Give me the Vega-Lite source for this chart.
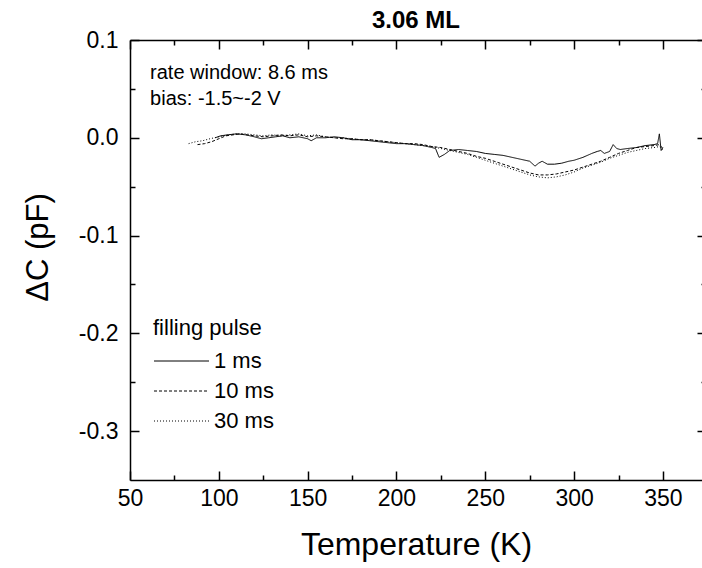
{
  "$schema": "https://vega.github.io/schema/vega-lite/v6.json",
  "width": 572,
  "height": 440,
  "autosize": {"type": "none"},
  "padding": {"left": 130, "top": 40, "right": 0, "bottom": 88},
  "background": "white",
  "config": {
    "view": {"stroke": null},
    "font": "Liberation Sans",
    "title": {"fontSize": 24, "fontWeight": "bold", "font": "Liberation Sans", "color": "black", "anchor": "middle", "baseline": "bottom", "offset": -28},
    "axis": {
      "domainColor": "black",
      "domainWidth": 1.5,
      "tickColor": "black",
      "tickWidth": 1.5,
      "labelColor": "black",
      "titleColor": "black",
      "labelFont": "Liberation Sans",
      "titleFont": "Liberation Sans",
      "titleFontWeight": "normal",
      "grid": false
    }
  },
  "title": {
    "text": "3.06 ML",
    "fontSize": 24,
    "fontWeight": "bold",
    "font": "Liberation Sans",
    "color": "black",
    "anchor": "middle",
    "baseline": "bottom",
    "offset": -28
  },
  "datasets": {
    "curves": [
      {"T": 98, "C": 0.000, "pulse": "1 ms"},
      {"T": 101, "C": 0.002, "pulse": "1 ms"},
      {"T": 105, "C": 0.003, "pulse": "1 ms"},
      {"T": 110, "C": 0.004, "pulse": "1 ms"},
      {"T": 115, "C": 0.003, "pulse": "1 ms"},
      {"T": 120, "C": 0.001, "pulse": "1 ms"},
      {"T": 124, "C": -0.001, "pulse": "1 ms"},
      {"T": 128, "C": 0.000, "pulse": "1 ms"},
      {"T": 132, "C": 0.001, "pulse": "1 ms"},
      {"T": 136, "C": 0.002, "pulse": "1 ms"},
      {"T": 140, "C": 0.000, "pulse": "1 ms"},
      {"T": 145, "C": 0.001, "pulse": "1 ms"},
      {"T": 150, "C": -0.001, "pulse": "1 ms"},
      {"T": 152, "C": -0.003, "pulse": "1 ms"},
      {"T": 155, "C": 0.000, "pulse": "1 ms"},
      {"T": 160, "C": 0.000, "pulse": "1 ms"},
      {"T": 165, "C": 0.001, "pulse": "1 ms"},
      {"T": 170, "C": 0.000, "pulse": "1 ms"},
      {"T": 175, "C": -0.002, "pulse": "1 ms"},
      {"T": 180, "C": -0.002, "pulse": "1 ms"},
      {"T": 185, "C": -0.003, "pulse": "1 ms"},
      {"T": 190, "C": -0.004, "pulse": "1 ms"},
      {"T": 195, "C": -0.005, "pulse": "1 ms"},
      {"T": 200, "C": -0.006, "pulse": "1 ms"},
      {"T": 205, "C": -0.006, "pulse": "1 ms"},
      {"T": 210, "C": -0.007, "pulse": "1 ms"},
      {"T": 215, "C": -0.008, "pulse": "1 ms"},
      {"T": 220, "C": -0.010, "pulse": "1 ms"},
      {"T": 222, "C": -0.011, "pulse": "1 ms"},
      {"T": 224, "C": -0.020, "pulse": "1 ms"},
      {"T": 227, "C": -0.017, "pulse": "1 ms"},
      {"T": 230, "C": -0.013, "pulse": "1 ms"},
      {"T": 235, "C": -0.012, "pulse": "1 ms"},
      {"T": 240, "C": -0.013, "pulse": "1 ms"},
      {"T": 245, "C": -0.014, "pulse": "1 ms"},
      {"T": 250, "C": -0.016, "pulse": "1 ms"},
      {"T": 255, "C": -0.017, "pulse": "1 ms"},
      {"T": 260, "C": -0.018, "pulse": "1 ms"},
      {"T": 265, "C": -0.020, "pulse": "1 ms"},
      {"T": 270, "C": -0.022, "pulse": "1 ms"},
      {"T": 275, "C": -0.024, "pulse": "1 ms"},
      {"T": 278, "C": -0.029, "pulse": "1 ms"},
      {"T": 280, "C": -0.026, "pulse": "1 ms"},
      {"T": 282, "C": -0.024, "pulse": "1 ms"},
      {"T": 285, "C": -0.027, "pulse": "1 ms"},
      {"T": 289, "C": -0.027, "pulse": "1 ms"},
      {"T": 293, "C": -0.026, "pulse": "1 ms"},
      {"T": 297, "C": -0.024, "pulse": "1 ms"},
      {"T": 300, "C": -0.023, "pulse": "1 ms"},
      {"T": 305, "C": -0.020, "pulse": "1 ms"},
      {"T": 310, "C": -0.016, "pulse": "1 ms"},
      {"T": 313, "C": -0.014, "pulse": "1 ms"},
      {"T": 315, "C": -0.013, "pulse": "1 ms"},
      {"T": 317, "C": -0.016, "pulse": "1 ms"},
      {"T": 320, "C": -0.014, "pulse": "1 ms"},
      {"T": 322, "C": -0.007, "pulse": "1 ms"},
      {"T": 324, "C": -0.011, "pulse": "1 ms"},
      {"T": 326, "C": -0.012, "pulse": "1 ms"},
      {"T": 330, "C": -0.011, "pulse": "1 ms"},
      {"T": 335, "C": -0.010, "pulse": "1 ms"},
      {"T": 340, "C": -0.008, "pulse": "1 ms"},
      {"T": 345, "C": -0.007, "pulse": "1 ms"},
      {"T": 347, "C": -0.006, "pulse": "1 ms"},
      {"T": 348, "C": 0.004, "pulse": "1 ms"},
      {"T": 349, "C": -0.013, "pulse": "1 ms"},
      {"T": 350, "C": -0.010, "pulse": "1 ms"},

      {"T": 88, "C": -0.007, "pulse": "10 ms"},
      {"T": 92, "C": -0.006, "pulse": "10 ms"},
      {"T": 96, "C": -0.004, "pulse": "10 ms"},
      {"T": 100, "C": -0.001, "pulse": "10 ms"},
      {"T": 104, "C": 0.002, "pulse": "10 ms"},
      {"T": 108, "C": 0.003, "pulse": "10 ms"},
      {"T": 112, "C": 0.004, "pulse": "10 ms"},
      {"T": 116, "C": 0.003, "pulse": "10 ms"},
      {"T": 120, "C": 0.002, "pulse": "10 ms"},
      {"T": 125, "C": 0.001, "pulse": "10 ms"},
      {"T": 130, "C": 0.002, "pulse": "10 ms"},
      {"T": 135, "C": 0.003, "pulse": "10 ms"},
      {"T": 140, "C": 0.002, "pulse": "10 ms"},
      {"T": 145, "C": 0.003, "pulse": "10 ms"},
      {"T": 150, "C": 0.001, "pulse": "10 ms"},
      {"T": 155, "C": 0.002, "pulse": "10 ms"},
      {"T": 160, "C": 0.001, "pulse": "10 ms"},
      {"T": 165, "C": 0.000, "pulse": "10 ms"},
      {"T": 170, "C": -0.001, "pulse": "10 ms"},
      {"T": 175, "C": -0.001, "pulse": "10 ms"},
      {"T": 180, "C": -0.002, "pulse": "10 ms"},
      {"T": 185, "C": -0.002, "pulse": "10 ms"},
      {"T": 190, "C": -0.003, "pulse": "10 ms"},
      {"T": 195, "C": -0.004, "pulse": "10 ms"},
      {"T": 200, "C": -0.005, "pulse": "10 ms"},
      {"T": 205, "C": -0.006, "pulse": "10 ms"},
      {"T": 210, "C": -0.006, "pulse": "10 ms"},
      {"T": 215, "C": -0.007, "pulse": "10 ms"},
      {"T": 220, "C": -0.009, "pulse": "10 ms"},
      {"T": 225, "C": -0.010, "pulse": "10 ms"},
      {"T": 230, "C": -0.012, "pulse": "10 ms"},
      {"T": 235, "C": -0.014, "pulse": "10 ms"},
      {"T": 240, "C": -0.016, "pulse": "10 ms"},
      {"T": 245, "C": -0.019, "pulse": "10 ms"},
      {"T": 250, "C": -0.021, "pulse": "10 ms"},
      {"T": 255, "C": -0.024, "pulse": "10 ms"},
      {"T": 260, "C": -0.027, "pulse": "10 ms"},
      {"T": 265, "C": -0.030, "pulse": "10 ms"},
      {"T": 270, "C": -0.033, "pulse": "10 ms"},
      {"T": 275, "C": -0.036, "pulse": "10 ms"},
      {"T": 280, "C": -0.038, "pulse": "10 ms"},
      {"T": 285, "C": -0.038, "pulse": "10 ms"},
      {"T": 290, "C": -0.037, "pulse": "10 ms"},
      {"T": 295, "C": -0.035, "pulse": "10 ms"},
      {"T": 300, "C": -0.033, "pulse": "10 ms"},
      {"T": 305, "C": -0.030, "pulse": "10 ms"},
      {"T": 310, "C": -0.027, "pulse": "10 ms"},
      {"T": 315, "C": -0.024, "pulse": "10 ms"},
      {"T": 320, "C": -0.020, "pulse": "10 ms"},
      {"T": 325, "C": -0.016, "pulse": "10 ms"},
      {"T": 330, "C": -0.013, "pulse": "10 ms"},
      {"T": 335, "C": -0.010, "pulse": "10 ms"},
      {"T": 340, "C": -0.009, "pulse": "10 ms"},
      {"T": 345, "C": -0.008, "pulse": "10 ms"},
      {"T": 348, "C": -0.007, "pulse": "10 ms"},
      {"T": 350, "C": -0.011, "pulse": "10 ms"},

      {"T": 83, "C": -0.006, "pulse": "30 ms"},
      {"T": 87, "C": -0.004, "pulse": "30 ms"},
      {"T": 91, "C": -0.003, "pulse": "30 ms"},
      {"T": 95, "C": -0.001, "pulse": "30 ms"},
      {"T": 100, "C": 0.001, "pulse": "30 ms"},
      {"T": 105, "C": 0.003, "pulse": "30 ms"},
      {"T": 110, "C": 0.004, "pulse": "30 ms"},
      {"T": 115, "C": 0.004, "pulse": "30 ms"},
      {"T": 120, "C": 0.003, "pulse": "30 ms"},
      {"T": 125, "C": 0.002, "pulse": "30 ms"},
      {"T": 130, "C": 0.003, "pulse": "30 ms"},
      {"T": 135, "C": 0.002, "pulse": "30 ms"},
      {"T": 140, "C": 0.003, "pulse": "30 ms"},
      {"T": 145, "C": 0.004, "pulse": "30 ms"},
      {"T": 150, "C": 0.002, "pulse": "30 ms"},
      {"T": 155, "C": 0.003, "pulse": "30 ms"},
      {"T": 160, "C": 0.001, "pulse": "30 ms"},
      {"T": 165, "C": 0.000, "pulse": "30 ms"},
      {"T": 170, "C": 0.000, "pulse": "30 ms"},
      {"T": 175, "C": -0.001, "pulse": "30 ms"},
      {"T": 180, "C": -0.002, "pulse": "30 ms"},
      {"T": 185, "C": -0.002, "pulse": "30 ms"},
      {"T": 190, "C": -0.003, "pulse": "30 ms"},
      {"T": 195, "C": -0.004, "pulse": "30 ms"},
      {"T": 200, "C": -0.005, "pulse": "30 ms"},
      {"T": 205, "C": -0.006, "pulse": "30 ms"},
      {"T": 210, "C": -0.007, "pulse": "30 ms"},
      {"T": 215, "C": -0.008, "pulse": "30 ms"},
      {"T": 220, "C": -0.009, "pulse": "30 ms"},
      {"T": 225, "C": -0.011, "pulse": "30 ms"},
      {"T": 230, "C": -0.013, "pulse": "30 ms"},
      {"T": 235, "C": -0.015, "pulse": "30 ms"},
      {"T": 240, "C": -0.017, "pulse": "30 ms"},
      {"T": 245, "C": -0.020, "pulse": "30 ms"},
      {"T": 250, "C": -0.023, "pulse": "30 ms"},
      {"T": 255, "C": -0.026, "pulse": "30 ms"},
      {"T": 260, "C": -0.029, "pulse": "30 ms"},
      {"T": 265, "C": -0.032, "pulse": "30 ms"},
      {"T": 270, "C": -0.035, "pulse": "30 ms"},
      {"T": 275, "C": -0.038, "pulse": "30 ms"},
      {"T": 280, "C": -0.040, "pulse": "30 ms"},
      {"T": 285, "C": -0.041, "pulse": "30 ms"},
      {"T": 290, "C": -0.040, "pulse": "30 ms"},
      {"T": 295, "C": -0.038, "pulse": "30 ms"},
      {"T": 300, "C": -0.035, "pulse": "30 ms"},
      {"T": 305, "C": -0.031, "pulse": "30 ms"},
      {"T": 310, "C": -0.028, "pulse": "30 ms"},
      {"T": 315, "C": -0.025, "pulse": "30 ms"},
      {"T": 320, "C": -0.021, "pulse": "30 ms"},
      {"T": 325, "C": -0.018, "pulse": "30 ms"},
      {"T": 330, "C": -0.015, "pulse": "30 ms"},
      {"T": 335, "C": -0.013, "pulse": "30 ms"},
      {"T": 340, "C": -0.011, "pulse": "30 ms"},
      {"T": 345, "C": -0.010, "pulse": "30 ms"},
      {"T": 348, "C": -0.009, "pulse": "30 ms"},
      {"T": 350, "C": -0.012, "pulse": "30 ms"}
    ],
    "notes": [
      {"label": "rate window: 8.6 ms", "T": 61.3, "C": 0.0665},
      {"label": "bias: -1.5~-2 V", "T": 61.3, "C": 0.040}
    ]
  },
  "resolve": {"axis": {"x": "independent", "y": "independent"}},
  "layer": [
    {
      "data": {"name": "curves"},
      "mark": {"type": "line", "color": "black", "strokeWidth": 1, "clip": true},
      "encoding": {
        "x": {
          "field": "T", "type": "quantitative",
          "scale": {"domain": [50, 372], "nice": false, "zero": false},
          "axis": {
            "orient": "bottom",
            "values": [50, 100, 150, 200, 250, 300, 350],
            "labelFlush": false,
            "labelFontSize": 23,
            "labelPadding": 7,
            "tickSize": 0,
            "ticks": false,
            "title": "Temperature (K)",
            "titleFontSize": 32,
            "titlePadding": 19
          }
        },
        "y": {
          "field": "C", "type": "quantitative",
          "scale": {"domain": [-0.35, 0.1], "nice": false, "zero": false},
          "axis": {
            "orient": "left",
            "values": [-0.3, -0.2, -0.1, 0, 0.1],
            "labelExpr": "datum.value < -0.0001 ? '-' + format(-datum.value, '.1f') : format(datum.value, '.1f')",
            "labelFontSize": 23,
            "labelPadding": 12,
            "ticks": false,
            "tickSize": 0,
            "title": "ΔC (pF)",
            "titleFontSize": 31,
            "titlePadding": 24,
            "titleY": 207
          }
        },
        "strokeDash": {
          "field": "pulse", "type": "nominal",
          "scale": {"domain": ["1 ms", "10 ms", "30 ms"], "range": [[1, 0], [3, 2], [1, 2]]},
          "legend": {
            "orient": "none",
            "legendX": 23,
            "legendY": 278,
            "title": "filling pulse",
            "titleFontSize": 22,
            "titleFont": "Liberation Sans",
            "titleFontWeight": "normal",
            "titleColor": "black",
            "titlePadding": 10,
            "labelFontSize": 22,
            "labelFont": "Liberation Sans",
            "labelColor": "black",
            "labelOffset": 39,
            "symbolType": "M-2,0H9",
            "symbolSize": 100,
            "symbolStrokeWidth": 1,
            "symbolStrokeColor": "black",
            "symbolFillColor": "transparent",
            "rowPadding": 8,
            "padding": 0
          }
        }
      }
    },
    {
      "data": {"name": "curves"},
      "mark": {"type": "point", "opacity": 0},
      "encoding": {
        "x": {"field": "T", "type": "quantitative",
          "axis": {"orient": "bottom", "values": [50, 100, 150, 200, 250, 300, 350], "labels": false, "domain": false, "tickSize": -9, "title": null}},
        "y": {"field": "C", "type": "quantitative",
          "axis": {"orient": "left", "values": [-0.3, -0.2, -0.1, 0, 0.1], "labels": false, "domain": false, "tickSize": -9, "title": null}}
      }
    },
    {
      "data": {"name": "curves"},
      "mark": {"type": "point", "opacity": 0},
      "encoding": {
        "x": {"field": "T", "type": "quantitative",
          "axis": {"orient": "bottom", "values": [75, 125, 175, 225, 275, 325], "labels": false, "domain": false, "tickSize": -5, "title": null}},
        "y": {"field": "C", "type": "quantitative",
          "axis": {"orient": "left", "values": [-0.25, -0.15, -0.05, 0.05], "labels": false, "domain": false, "tickSize": -5, "title": null}}
      }
    },
    {
      "data": {"name": "curves"},
      "mark": {"type": "point", "opacity": 0},
      "encoding": {
        "x": {"field": "T", "type": "quantitative",
          "axis": {"orient": "top", "values": [50, 100, 150, 200, 250, 300, 350], "labels": false, "domain": true, "tickSize": -9, "title": null}},
        "y": {"field": "C", "type": "quantitative",
          "axis": {"orient": "right", "values": [-0.3, -0.2, -0.1, 0, 0.1], "labels": false, "domain": true, "tickSize": -9, "title": null, "offset": 4}}
      }
    },
    {
      "data": {"name": "curves"},
      "mark": {"type": "point", "opacity": 0},
      "encoding": {
        "x": {"field": "T", "type": "quantitative",
          "axis": {"orient": "top", "values": [75, 125, 175, 225, 275, 325], "labels": false, "domain": false, "tickSize": -5, "title": null}},
        "y": {"field": "C", "type": "quantitative",
          "axis": {"orient": "right", "values": [-0.25, -0.15, -0.05, 0.05], "labels": false, "domain": false, "tickSize": -5, "title": null, "offset": 4}}
      }
    },
    {
      "data": {"name": "notes"},
      "mark": {"type": "text", "align": "left", "baseline": "middle", "fontSize": 20, "font": "Liberation Sans", "color": "black"},
      "encoding": {
        "x": {"field": "T", "type": "quantitative", "axis": null},
        "y": {"field": "C", "type": "quantitative", "axis": null},
        "text": {"field": "label"}
      }
    }
  ]
}
